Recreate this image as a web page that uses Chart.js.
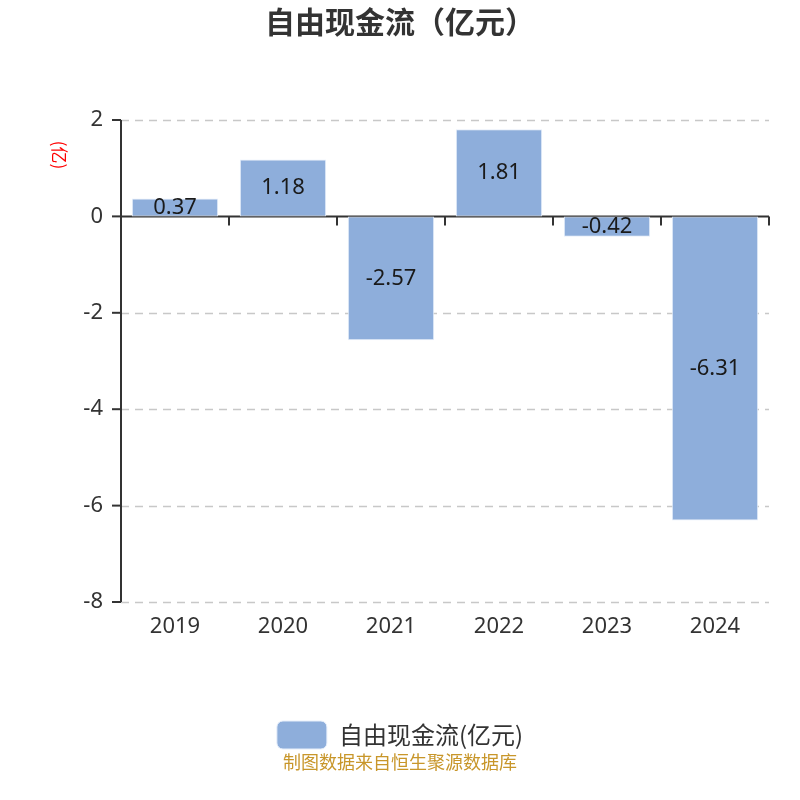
<!DOCTYPE html>
<html>
<head>
<meta charset="utf-8">
<script src="https://cdn.jsdelivr.net/npm/chart.js@4"></script>
<style>
html,body{margin:0;padding:0;background:#fff;}
#wrap{width:800px;height:800px;position:relative;}
</style>
</head>
<body>
<div id="wrap"><canvas id="c" width="800" height="800"></canvas></div>
<script>
const categories = ["2019", "2020", "2021", "2022", "2023", "2024"];
const values = [0.37, 1.18, -2.57, 1.81, -0.42, -6.31];
const yTicks = [2, 0, -2, -4, -6, -8];
const seriesName = "自由现金流(亿元)";
const titleText = "自由现金流（亿元）";
const unitText = "(亿)";
const footerText = "制图数据来自恒生聚源数据库";

const FONT = '"Noto Sans", "Noto Sans CJK SC", sans-serif';
const CJK = '"Noto Sans CJK SC", "Noto Sans", sans-serif';

const gridAndAxes = {
  id: 'gridAndAxes',
  beforeDatasetsDraw(chart) {
    const ctx = chart.ctx, x = chart.scales.x, y = chart.scales.y, ca = chart.chartArea;
    ctx.save();
    ctx.strokeStyle = '#c8c8c8';
    ctx.lineWidth = 1.5;
    ctx.setLineDash([8, 6]);
    yTicks.forEach(v => {
      if (v === 0) return;
      const py = Math.round(y.getPixelForValue(v)) + 0.5;
      ctx.beginPath();
      ctx.moveTo(ca.left, py);
      ctx.lineTo(ca.right, py);
      ctx.stroke();
    });
    ctx.setLineDash([]);
    ctx.strokeStyle = '#333';
    ctx.lineWidth = 2;
    ctx.beginPath();
    ctx.moveTo(ca.left, ca.top);
    ctx.lineTo(ca.left, ca.bottom);
    ctx.stroke();
    yTicks.forEach(v => {
      const py = y.getPixelForValue(v);
      ctx.beginPath();
      ctx.moveTo(ca.left - 9, py);
      ctx.lineTo(ca.left, py);
      ctx.stroke();
    });
    const y0 = y.getPixelForValue(0);
    ctx.beginPath();
    ctx.moveTo(ca.left, y0);
    ctx.lineTo(ca.right, y0);
    ctx.stroke();
    const n = categories.length;
    for (let i = 0; i <= n; i++) {
      const px = i === 0 ? ca.left : (i === n ? ca.right : (x.getPixelForValue(i - 1) + x.getPixelForValue(i)) / 2);
      ctx.beginPath();
      ctx.moveTo(px, y0);
      ctx.lineTo(px, y0 + 9);
      ctx.stroke();
    }
    ctx.restore();
  }
};

const extras = {
  id: 'extras',
  afterDatasetsDraw(chart) {
    const ctx = chart.ctx;
    ctx.save();
    const meta = chart.getDatasetMeta(0);
    ctx.fillStyle = '#1a1a1a';
    ctx.font = '22px ' + FONT;
    ctx.textAlign = 'center';
    ctx.textBaseline = 'middle';
    meta.data.forEach((bar, i) => {
      const cy = (bar.y + bar.base) / 2;
      ctx.fillText(values[i].toFixed(2), bar.x, cy);
    });
    ctx.restore();
  },
  afterDraw(chart) {
    const ctx = chart.ctx;
    ctx.save();
    ctx.fillStyle = '#333';
    ctx.font = 'bold 30px ' + CJK;
    ctx.textAlign = 'center';
    ctx.textBaseline = 'middle';
    ctx.fillText(titleText, 400, 22);
    ctx.fillStyle = '#c8962a';
    ctx.font = '18px ' + CJK;
    ctx.fillText(footerText, 400, 762);
    ctx.translate(59, 155);
    ctx.rotate(Math.PI / 2);
    ctx.fillStyle = '#ff0000';
    ctx.font = '17px ' + CJK;
    ctx.fillText(unitText, 0, 0);
    ctx.restore();
  }
};

new Chart(document.getElementById('c'), {
  type: 'bar',
  data: {
    labels: categories,
    datasets: [{
      label: seriesName,
      data: values,
      backgroundColor: 'rgb(142,174,219)',
      borderColor: 'rgba(230,238,250,1)',
      borderWidth: 1,
      borderSkipped: false,
      categoryPercentage: 0.8,
      barPercentage: 1.0
    }]
  },
  options: {
    responsive: false,
    animation: false,
    devicePixelRatio: 1,
    layout: { padding: { top: 120, right: 31, bottom: 41, left: 31 } },
    plugins: {
      title: { display: false },
      tooltip: { enabled: false },
      legend: {
        position: 'bottom',
        labels: {
          boxWidth: 50,
          boxHeight: 28,
          useBorderRadius: true,
          borderRadius: 6,
          color: '#333',
          font: { size: 24, family: CJK },
          padding: 10
        }
      }
    },
    scales: {
      x: {
        grid: { display: false, drawTicks: false },
        border: { display: false },
        ticks: { color: '#333', font: { size: 22, family: FONT }, padding: 12 },
        afterFit(s) { s.height = 109; }
      },
      y: {
        min: -8, max: 2,
        afterFit(s) { s.width = 90; },
        afterBuildTicks(s) { s.ticks = yTicks.map(v => ({ value: v })); },
        grid: { display: false, drawTicks: false },
        border: { display: false },
        ticks: {
          color: '#333',
          font: { size: 22, family: FONT },
          padding: 18
        }
      }
    }
  },
  plugins: [gridAndAxes, extras]
});
</script>
</body>
</html>
